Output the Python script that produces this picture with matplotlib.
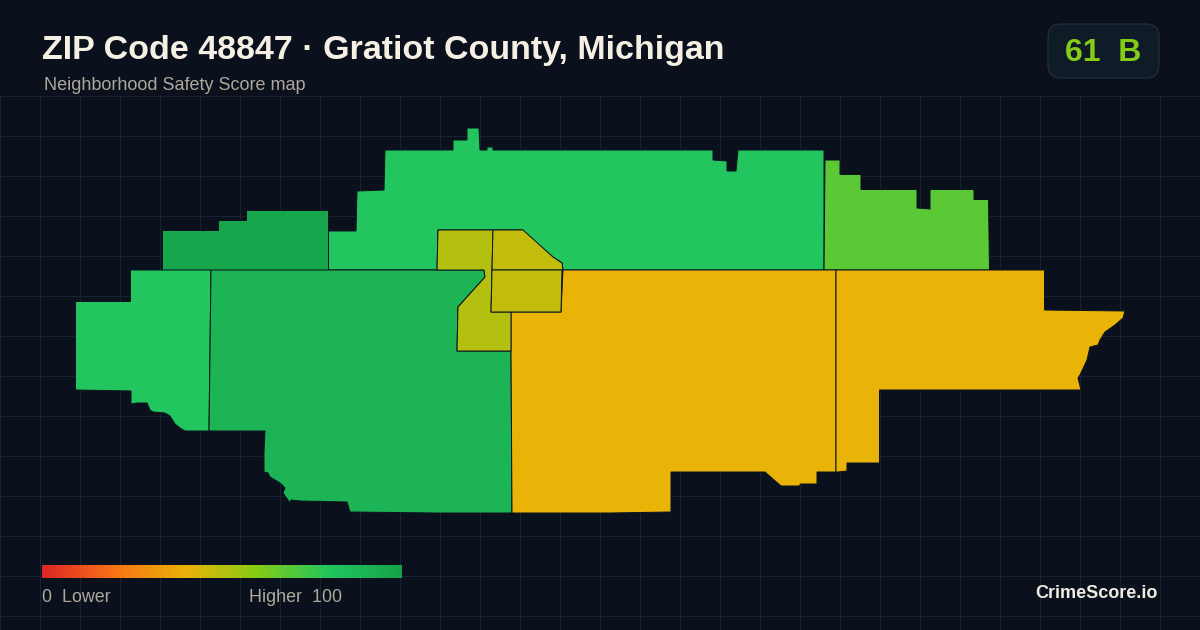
## Safety score map for ZIP 48847, tracts in pixel units.
import numpy as np
import matplotlib
matplotlib.use("Agg")
import matplotlib.pyplot as plt
from matplotlib.colors import LinearSegmentedColormap
from matplotlib.patches import FancyBboxPatch, Polygon

plt.rcParams['font.family'] = ['Liberation Sans', 'DejaVu Sans']

BG = "#0a111c"
GRID = "#162330"
BORDER = "#0b1420"
MUTED = "#ada89b"

title = "ZIP Code 48847 · Gratiot County, Michigan"
subtitle = "Neighborhood Safety Score map"
brand = "CrimeScore.io"
score_label = "61  B"

# score scale
scale_stops = [0.0, 0.2, 0.4, 0.6, 0.8, 1.0]
scale_colors = ["#dc2626", "#f97316", "#eab308", "#84cc16", "#22c55e", "#16a34a"]

# tract outlines (x, y in picture pixels)
north = [(328,270),(328,231),(356,231),(357,191),(384,190),(385,150),(453,150),(453,140),(467,140),
         (467,128),(479,128),(480,150),(487,150),(487,147),(493,147),(493,150),(565,150),(640,150),
         (713,150),(713,160),(727,161),(727,171),(736,171),(738,150),(824,150),(824,270),(563,270),
         (562,263),(553,257),(523,232),(523,230),(438,230),(437,270)]
northwest = [(161.5,270),(161.5,230),(217.5,230),(217.5,220),(245.5,220),(245.5,209.5),(328,209.5),(328,270)]
northeast = [(824,270),(825,160),(840,160),(840,174.5),(861,174.5),(861,189.5),(917,189.5),(917,208),
             (930,209),(930,189.5),(974,189.5),(974,199.5),(988.5,199.5),(989.5,270)]
west = [(75.5,390),(75.5,301.5),(130.5,301.5),(130.5,270),(211,270),(209,431),(185,431),(180,428),(175,424),
        (170,416),(165,413),(153,412),(150,410),(147,403),(137,403),(131,404),(131,391)]
central_west = [(211,270),(437,270),(484,270),(485,277),(458,307),(457,351),(511,351),(512,513),
                (436,513),(350,512),(347,502),(300,501),(291,500),(290,503),(283,493),(285,488),
                (280,483),(270,477),(268,473),(264,472),(264,452),(265,431),(209,431)]
town_left = [(438,230),(493,230),(492,270),(491,312),(511,312),(511,351),(457,351),(458,307),
             (485,277),(484,270),(437,270)]
town_top = [(493,230),(523,230),(553,257),(562,263),(563,270),(492,270)]
town_low = [(492,270),(562,270),(561,312),(491,312)]
south = [(511,312),(561,312),(563,270),(836,270),(836,472),(817,472),(817,484),(800,484),(800,486),
         (781,486),(765,472),(671,472),(671,512),(610,513),(512,513),(511,351)]
east = [(836,270),(1044.5,270),(1044.5,310),(1125,311),(1123,318),(1115,325),(1105,332),(1100,340),
        (1098,345),(1090,347),(1087,360),(1080,375),(1078,378),(1081,390),(879.5,390),(879.5,463),
        (847,463),(847,471),(838,472),(836,472)]

tracts = [north, northwest, northeast, west, central_west, south, east, town_left, town_top, town_low]
tract_scores = [80, 98, 68.5, 80, 90, 40, 40, 50.5, 47.5, 48]

cmap = LinearSegmentedColormap.from_list("score", list(zip(scale_stops, scale_colors)))

fig = plt.figure(figsize=(12, 6.3), dpi=100, facecolor=BG)
ax = fig.add_axes([0, 0, 1, 1])
ax.set_xlim(0, 1200)
ax.set_ylim(630, 0)
ax.axis("off")

# background grid, starts under the header
ax.vlines(np.arange(0, 1200, 40), 96, 630, color=GRID, lw=0.72, zorder=1)
ax.hlines(np.arange(96, 630, 40), 0, 1200, color=GRID, lw=0.72, zorder=1)

for outline, score in zip(tracts, tract_scores):
    ax.add_patch(Polygon(outline, closed=True, facecolor=cmap(score / 100), edgecolor=BORDER,
                         lw=0.72, zorder=2))

ax.text(42, 50, title, color="#f6efe4", fontsize=24.5, fontweight="bold", va="center", ha="left")
ax.text(44, 86, subtitle, color=MUTED, fontsize=13, va="center", ha="left")

# score badge
ax.add_patch(FancyBboxPatch((1060, 36), 87, 30, boxstyle="round,pad=12,rounding_size=13",
                            facecolor="#101b28", edgecolor="#243140", lw=0.8, zorder=2))
ax.text(1103.5, 53, score_label, color="#84cc16", fontsize=23, fontweight="bold",
        va="center", ha="center", zorder=3)

# colour scale
ax.imshow(np.linspace(0, 1, 360).reshape(1, -1), cmap=cmap, extent=(42, 402, 578, 565),
          aspect="auto", zorder=2)
ax.set_xlim(0, 1200)
ax.set_ylim(630, 0)
ax.text(42, 598, "0  Lower", color=MUTED, fontsize=12.9, va="center", ha="left")
ax.text(249, 598, "Higher  100", color=MUTED, fontsize=12.9, va="center", ha="left")

ax.text(1158, 594, brand, color="#f1ece2", fontsize=13, fontweight="bold", va="center", ha="right")

fig.savefig("out.png", dpi=100, facecolor=BG)
